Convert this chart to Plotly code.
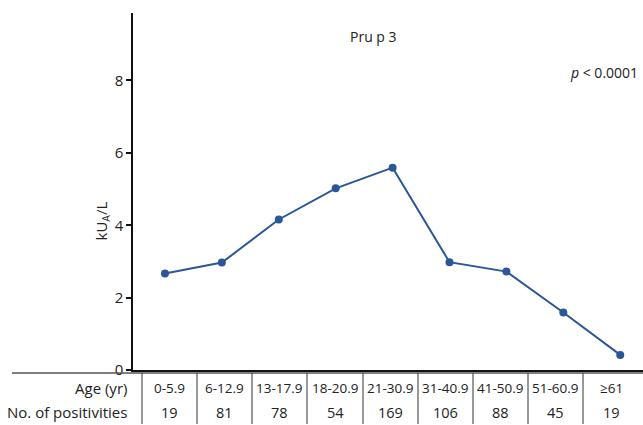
import plotly.graph_objects as go

age_groups = ["0-5.9", "6-12.9", "13-17.9", "18-20.9", "21-30.9", "31-40.9", "41-50.9", "51-60.9", "\u226561"]
kua_values = [2.67, 2.97, 4.16, 5.02, 5.59, 2.98, 2.72, 1.59, 0.42]
positivities = [19, 81, 78, 54, 169, 106, 88, 45, 19]
y_ticks = [0, 2, 4, 6, 8]

W, H = 643, 425
FONT = "Open Sans"
line_color = "#2b5797"

x_idx = list(range(len(age_groups)))

fig = go.Figure()
fig.add_trace(go.Scatter(
    x=x_idx, y=kua_values, mode="lines+markers",
    line=dict(color=line_color, width=2),
    marker=dict(color=line_color, size=8),
    showlegend=False, hoverinfo="skip",
))

def px(x):
    return x / W

def py(y):
    return 1 - y / H

shapes = []
annotations = []

shapes.append(dict(type="line", xref="paper", yref="paper",
                   x0=px(12), x1=px(643), y0=py(374), y1=py(374),
                   line=dict(color="#555555", width=1.5)))
bounds = [142, 197, 252, 307, 363, 418, 473, 528, 583]
for b in bounds:
    shapes.append(dict(type="line", xref="paper", yref="paper",
                       x0=px(b), x1=px(b), y0=py(374), y1=py(425),
                       line=dict(color="#333333", width=1)))
centers = [(bounds[i] + bounds[i + 1]) / 2 for i in range(len(bounds) - 1)] + [611]

def ann(text, x, y, size, xanchor="center", **kw):
    d = dict(text=text, xref="paper", yref="paper", x=px(x), y=py(y),
             xanchor=xanchor, yanchor="middle", showarrow=False,
             font=dict(size=size, color="#222", family=FONT))
    d.update(kw)
    annotations.append(d)

ann("Age (yr)", 129, 389, 15, xanchor="right")
ann("No. of positivities", 129, 413, 15, xanchor="right")
for c, a, n in zip(centers, age_groups, positivities):
    ann(a, c, 389, 13.5)
    ann(str(n), c, 413, 14.5)
ann("Pru p 3", 373, 37, 14)
ann("<i>p</i> < 0.0001", 640, 73, 14, xanchor="right")
ann("kU<sub>A</sub>/L", 102, 222, 15, textangle=-90)

fig.update_layout(
    width=W, height=433,
    autosize=False,
    margin=dict(l=0, r=0, t=0, b=0),
    paper_bgcolor="white", plot_bgcolor="white",
    font=dict(family=FONT, color="#222"),
    shapes=shapes, annotations=annotations,
    xaxis=dict(domain=[133 / W, 1], range=[-0.562, 8.40],
               showgrid=False, zeroline=False, showticklabels=False,
               ticks="", showline=True, linecolor="#111", linewidth=1.5),
    yaxis=dict(domain=[1 - 371 / H, 1 - 12.7 / H], range=[0, 9.87],
               tickvals=y_ticks, ticktext=[str(t) for t in y_ticks],
               showgrid=False, zeroline=False, showline=True,
               linecolor="#111", linewidth=1.5,
               ticks="outside", ticklen=5, tickwidth=1.5, tickcolor="#111",
               tickfont=dict(size=15, color="#222", family=FONT)),
)

fig.write_html(
    "out.html",
    config={"displayModeBar": False, "responsive": False},
    post_script="document.body.style.margin='0';document.body.style.overflow='hidden';",
)
